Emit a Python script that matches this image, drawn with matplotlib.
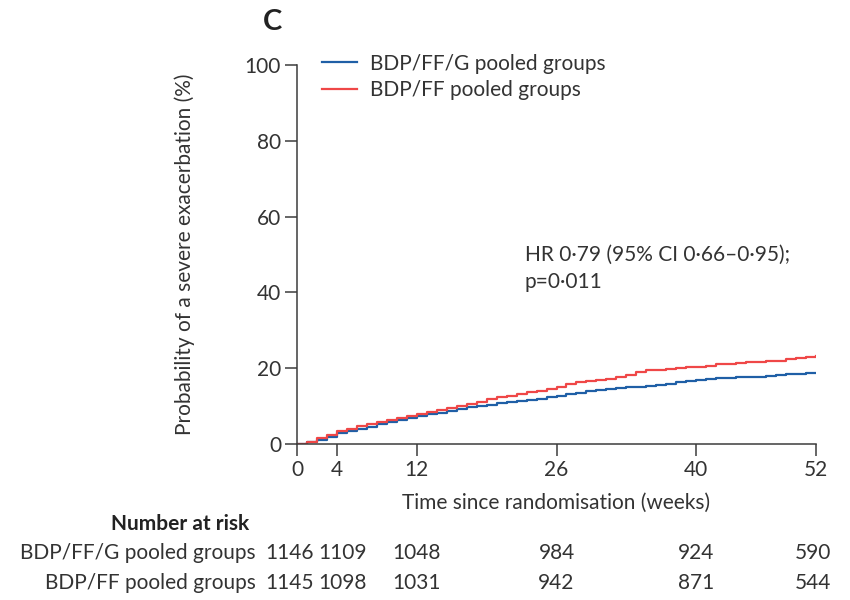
import numpy as np
import matplotlib.pyplot as plt
import matplotlib.transforms as mtransforms

# ========== Data ==========
weeks = list(range(0, 53))
bdp_ff_g = [0, 0.4, 1.1, 1.9, 2.8, 3.4, 4.0, 4.6, 5.2, 5.8, 6.4, 6.9, 7.4,
            7.9, 8.3, 8.8, 9.3, 9.7, 10.1, 10.4, 10.7, 11.0, 11.4, 11.7, 12.0,
            12.3, 12.6, 13.1, 13.5, 13.9, 14.2, 14.5, 14.8, 15.0, 15.1, 15.3,
            15.5, 15.9, 16.3, 16.6, 16.9, 17.1, 17.3, 17.4, 17.6, 17.7, 17.8,
            18.0, 18.3, 18.5, 18.6, 18.7, 18.7]
bdp_ff = [0, 0.6, 1.5, 2.5, 3.4, 4.0, 4.7, 5.3, 5.9, 6.4, 6.9, 7.3, 7.8,
          8.5, 9.1, 9.6, 10.1, 10.6, 11.1, 11.8, 12.3, 12.7, 13.1, 13.6, 14.0,
          14.4, 15.0, 15.8, 16.3, 16.6, 16.9, 17.2, 17.6, 18.3, 18.9, 19.4,
          19.6, 19.8, 20.0, 20.2, 20.4, 20.7, 21.0, 21.2, 21.4, 21.6, 21.7,
          21.8, 21.9, 22.3, 22.6, 22.9, 23.2]

xticks = [0, 4, 12, 26, 40, 52]
yticks = [0, 20, 40, 60, 80, 100]

group_labels = ['BDP/FF/G pooled groups', 'BDP/FF pooled groups']
at_risk_g = [1146, 1109, 1048, 984, 924, 590]
at_risk_ff = [1145, 1098, 1031, 942, 871, 544]
at_risk_pos = [-0.7, 4.6, 12, 26, 40, 51.7]  # label centres in weeks

blue = '#1f5fa6'
red = '#ef4747'
txt = '#333333'
axcol = '#3c3c3c'
fs = 15

plt.rcParams['font.family'] = ['Lato', 'DejaVu Sans']
plt.rcParams['text.color'] = txt

fig = plt.figure(figsize=(8.5, 6), dpi=100)
ax = fig.add_axes([297 / 850, 156 / 600, 519 / 850, 379 / 600])

ax.plot(weeks, bdp_ff_g, drawstyle='steps-post', color=blue, lw=1.6,
        label=group_labels[0])
ax.plot(weeks, bdp_ff, drawstyle='steps-post', color=red, lw=1.6,
        label=group_labels[1])

ax.set_xlim(0, 52)
ax.set_ylim(0, 100)
ax.set_xticks(xticks)
ax.set_yticks(yticks)
for s in ['top', 'right']:
    ax.spines[s].set_visible(False)
for s in ['left', 'bottom']:
    ax.spines[s].set_color(axcol)
    ax.spines[s].set_linewidth(1.1)
ax.tick_params(direction='out', length=8.5, width=1.1, color=axcol,
               labelsize=fs, labelcolor=txt, pad=3)
ax.set_xlabel('Time since randomisation (weeks)', fontsize=fs, color=txt)
ax.set_ylabel('Probability of a severe exacerbation (%)', fontsize=fs,
              color=txt)
ax.xaxis.set_label_coords(0.5, -0.13)
ax.yaxis.set_label_coords(-0.197, 0.5)

leg = ax.legend(loc='upper left', bbox_to_anchor=(25 / 519, 1.03),
                frameon=False, fontsize=fs, handlelength=1.7,
                handletextpad=0.6, labelspacing=0.3, borderpad=0,
                borderaxespad=0)

ax.text(0.439, (444 - 255) / 379, 'HR 0·79 (95% CI 0·66–0·95);',
        transform=ax.transAxes, fontsize=fs, color=txt, va='center')
ax.text(0.439, (444 - 282) / 379, 'p=0·011',
        transform=ax.transAxes, fontsize=fs, color=txt, va='center')

fig.text(273 / 850, 1 - 22 / 600, 'C', fontsize=21, fontweight='bold',
         ha='center', va='center', color='#222222')

# ========== Number at risk ==========
trans = mtransforms.blended_transform_factory(ax.transData, fig.transFigure)
fig.text(180 / 850, 1 - 524 / 600, 'Number at risk', fontsize=fs,
         fontweight='bold', ha='center', va='center', color='#222222')
rows = [at_risk_g, at_risk_ff]
row_y = [1 - 553 / 600, 1 - 583 / 600]
for label, vals, yy in zip(group_labels, rows, row_y):
    fig.text(256 / 850, yy, label, fontsize=fs, ha='right', va='center',
             color=txt)
    for xp, v in zip(at_risk_pos, vals):
        ax.text(xp, yy, str(v), transform=trans, fontsize=fs, ha='center',
                va='center', color=txt, clip_on=False)

fig.savefig('out.png', dpi=100)
